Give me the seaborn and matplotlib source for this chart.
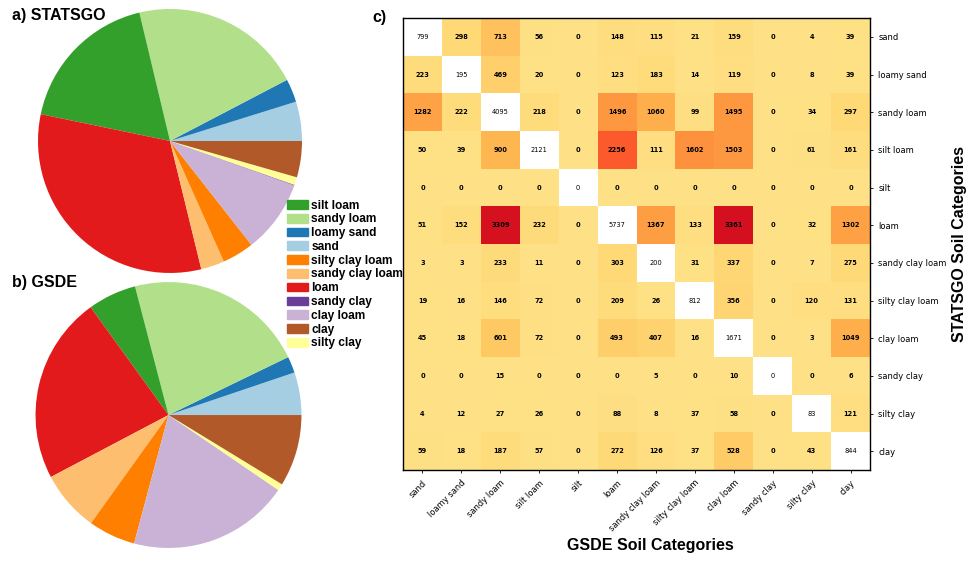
import numpy as np
import pandas as pd
import matplotlib
matplotlib.use("Agg")
import matplotlib.pyplot as plt
import seaborn as sns
from matplotlib.colors import ListedColormap
from matplotlib.patches import Patch

categories = ["sand", "loamy sand", "sandy loam", "silt loam", "silt", "loam",
              "sandy clay loam", "silty clay loam", "clay loam", "sandy clay",
              "silty clay", "clay"]

# rows: STATSGO category, columns: GSDE category
counts = np.array([
    [799, 298, 713, 56, 0, 148, 115, 21, 159, 0, 4, 39],
    [223, 195, 469, 20, 0, 123, 183, 14, 119, 0, 8, 39],
    [1282, 222, 4095, 218, 0, 1496, 1060, 99, 1495, 0, 34, 297],
    [50, 39, 900, 2121, 0, 2256, 111, 1602, 1503, 0, 61, 161],
    [0, 0, 0, 0, 0, 0, 0, 0, 0, 0, 0, 0],
    [51, 152, 3309, 232, 0, 5737, 1367, 133, 3361, 0, 32, 1302],
    [3, 3, 233, 11, 0, 303, 200, 31, 337, 0, 7, 275],
    [19, 16, 146, 72, 0, 209, 26, 812, 356, 0, 120, 131],
    [45, 18, 601, 72, 0, 493, 407, 16, 1671, 0, 3, 1049],
    [0, 0, 15, 0, 0, 0, 5, 0, 10, 0, 0, 6],
    [4, 12, 27, 26, 0, 88, 8, 37, 58, 0, 83, 121],
    [59, 18, 187, 57, 0, 272, 126, 37, 528, 0, 43, 844],
])

legend_order = ["silt loam", "sandy loam", "loamy sand", "sand", "silty clay loam",
                "sandy clay loam", "loam", "sandy clay", "clay loam", "clay",
                "silty clay"]

title_font = "Liberation Sans"

# one Paired colour per category (silt never shows up)
colors = dict(zip(categories, sns.color_palette("Paired", 12)))
pie_cats = [c for c in categories if c != "silt"]

df = pd.DataFrame(counts, index=categories, columns=categories)
statsgo = df.sum(axis=1)[pie_cats]
gsde = df.sum(axis=0)[pie_cats]

fig = plt.figure(figsize=(9.72, 5.61), dpi=100)

ax_a = fig.add_axes([0.0391, 0.5134, 0.2716, 0.4706])
ax_a.pie(statsgo.values, colors=[colors[c] for c in pie_cats], startangle=0)
ax_a.set_xlim(-1, 1)
ax_a.set_ylim(-1, 1)

ax_b = fig.add_axes([0.0365, 0.0232, 0.2737, 0.474])
ax_b.pie(gsde.values, colors=[colors[c] for c in pie_cats], startangle=0)
ax_b.set_xlim(-1, 1)
ax_b.set_ylim(-1, 1)

fig.text(0.012, 0.973, "a) STATSGO", fontsize=11.5, fontweight="bold",
         family=title_font, va="center")
fig.text(0.012, 0.497, "b) GSDE", fontsize=11.5, fontweight="bold",
         family=title_font, va="center")
fig.text(0.383, 0.968, "c)", fontsize=11.5, fontweight="bold",
         family=title_font, va="center")

handles = [Patch(color=colors[c], label=c) for c in legend_order]
fig.legend(handles=handles, loc="upper left", bbox_to_anchor=(0.2895, 0.655),
           frameon=False, borderpad=0, handlelength=1.75, handleheight=0.75,
           handletextpad=0.25, labelspacing=0.15,
           prop={"family": title_font, "weight": "bold", "size": 8.6})

# heatmap, diagonal masked and written separately
ax_c = fig.add_axes([0.4146, 0.1622, 0.4805, 0.8057])
cmap = ListedColormap(plt.get_cmap("YlOrRd")(np.linspace(0.2, 1.0, 256)))
mask = np.eye(len(categories), dtype=bool)
sns.heatmap(df, mask=mask, cmap=cmap, vmin=0, vmax=4500, annot=True, fmt="d",
            annot_kws={"size": 4.8, "weight": "bold", "color": "black"},
            cbar=False, ax=ax_c)
for i in range(len(categories)):
    ax_c.text(i + 0.5, i + 0.5, str(counts[i, i]), ha="center", va="center",
              fontsize=4.8, color="black")

for s in ax_c.spines.values():
    s.set_visible(True)
    s.set_linewidth(1.0)
    s.set_color("black")

ax_c.yaxis.tick_right()
ax_c.yaxis.set_label_position("right")
ax_c.tick_params(axis="both", labelsize=6, length=2.5, width=0.6)
plt.setp(ax_c.get_yticklabels(), rotation=0)
plt.setp(ax_c.get_xticklabels(), rotation=45, ha="right", rotation_mode="anchor")

ax_c.set_ylabel("STATSGO Soil Categories", fontsize=11.5, fontweight="bold",
                family=title_font)
ax_c.set_xlabel("GSDE Soil Categories", fontsize=11.5, fontweight="bold",
                family=title_font)
ax_c.xaxis.set_label_coords(0.529, -0.15)

fig.savefig("out.png", dpi=100)
